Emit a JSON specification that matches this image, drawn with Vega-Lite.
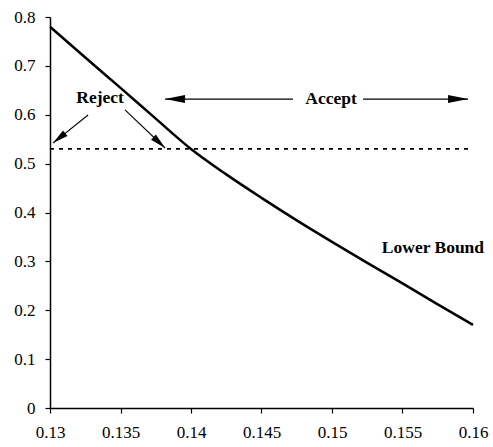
{
  "$schema": "https://vega.github.io/schema/vega-lite/v6.json",
  "width": 423,
  "height": 391,
  "autosize": {"type": "none"},
  "padding": {"left": 50, "top": 17, "right": 20, "bottom": 39},
  "background": "white",
  "config": {
    "view": {"stroke": null},
    "axis": {"grid": false, "domainColor": "black", "domainWidth": 1.5, "tickColor": "black", "tickWidth": 1.2, "tickSize": 5, "labelColor": "black", "title": null},
    "style": {"guide-label": {"font": "Liberation Serif", "fontSize": 17}}
  },
  "datasets": {
    "curve": [
      {"x": 0.13, "y": 0.78},
      {"x": 0.1325, "y": 0.717},
      {"x": 0.135, "y": 0.655},
      {"x": 0.1375, "y": 0.592},
      {"x": 0.14, "y": 0.53},
      {"x": 0.1425, "y": 0.478},
      {"x": 0.145, "y": 0.43},
      {"x": 0.1475, "y": 0.384},
      {"x": 0.15, "y": 0.34},
      {"x": 0.1525, "y": 0.297},
      {"x": 0.155, "y": 0.255},
      {"x": 0.1575, "y": 0.212},
      {"x": 0.16, "y": 0.17}
    ],
    "threshold": [{"x": 0.13, "x2": 0.1598, "y": 0.53}],
    "labels": [
      {"x": 0.13355, "y": 0.634, "text": "Reject"},
      {"x": 0.14993, "y": 0.632, "text": "Accept"},
      {"x": 0.15716, "y": 0.327, "text": "Lower Bound"}
    ],
    "arrows": [
      {"name": "r1", "x": 0.1327, "y": 0.5995, "x2": 0.13021, "y2": 0.542},
      {"name": "r2", "x": 0.13532, "y": 0.61, "x2": 0.13816, "y2": 0.532},
      {"name": "aL", "x": 0.14723, "y": 0.632, "x2": 0.13816, "y2": 0.632},
      {"name": "aR", "x": 0.1522, "y": 0.632, "x2": 0.15965, "y2": 0.632}
    ]
  },
  "layer": [
    {
      "data": {"name": "curve"},
      "mark": {"type": "line", "color": "black", "strokeWidth": 2.5, "interpolate": "monotone"},
      "encoding": {
        "x": {"field": "x", "type": "quantitative", "scale": {"domain": [0.13, 0.16], "nice": false, "zero": false},
          "axis": {"values": [0.13, 0.135, 0.14, 0.145, 0.15, 0.155, 0.16], "format": ".3~f", "labelPadding": 11, "labelFlush": false}},
        "y": {"field": "y", "type": "quantitative", "scale": {"domain": [0, 0.8], "nice": false},
          "axis": {"values": [0, 0.1, 0.2, 0.3, 0.4, 0.5, 0.6, 0.7, 0.8], "format": ".1~f", "labelPadding": 10, "labelFlush": false}}
      }
    },
    {
      "data": {"name": "threshold"},
      "mark": {"type": "rule", "color": "black", "strokeWidth": 1.8, "strokeDash": [4, 5]},
      "encoding": {
        "x": {"field": "x", "type": "quantitative"},
        "x2": {"field": "x2"},
        "y": {"field": "y", "type": "quantitative"}
      }
    },
    {
      "data": {"name": "arrows"},
      "mark": {"type": "rule", "color": "black", "strokeWidth": 1.1},
      "encoding": {
        "x": {"field": "x", "type": "quantitative"},
        "x2": {"field": "x2"},
        "y": {"field": "y", "type": "quantitative"},
        "y2": {"field": "y2"}
      }
    },
    {
      "data": {"name": "arrows"},
      "transform": [{"filter": "datum.name === 'r1'"}],
      "mark": {"type": "point", "shape": "M0,0L0.45,2L-0.45,2Z", "size": 250, "angle": 231, "filled": true, "color": "black", "opacity": 1},
      "encoding": {"x": {"field": "x2", "type": "quantitative"}, "y": {"field": "y2", "type": "quantitative"}}
    },
    {
      "data": {"name": "arrows"},
      "transform": [{"filter": "datum.name === 'r2'"}],
      "mark": {"type": "point", "shape": "M0,0L0.45,2L-0.45,2Z", "size": 250, "angle": 133, "filled": true, "color": "black", "opacity": 1},
      "encoding": {"x": {"field": "x2", "type": "quantitative"}, "y": {"field": "y2", "type": "quantitative"}}
    },
    {
      "data": {"name": "arrows"},
      "transform": [{"filter": "datum.name === 'aL'"}],
      "mark": {"type": "point", "shape": "M0,0L0.4,2L-0.4,2Z", "size": 400, "angle": 270, "filled": true, "color": "black", "opacity": 1},
      "encoding": {"x": {"field": "x2", "type": "quantitative"}, "y": {"field": "y2", "type": "quantitative"}}
    },
    {
      "data": {"name": "arrows"},
      "transform": [{"filter": "datum.name === 'aR'"}],
      "mark": {"type": "point", "shape": "M0,0L0.4,2L-0.4,2Z", "size": 400, "angle": 90, "filled": true, "color": "black", "opacity": 1},
      "encoding": {"x": {"field": "x2", "type": "quantitative"}, "y": {"field": "y2", "type": "quantitative"}}
    },
    {
      "data": {"name": "labels"},
      "mark": {"type": "text", "font": "Liberation Serif", "fontWeight": "bold", "fontSize": 17.5, "color": "black", "align": "center", "baseline": "middle"},
      "encoding": {
        "x": {"field": "x", "type": "quantitative"},
        "y": {"field": "y", "type": "quantitative"},
        "text": {"field": "text"}
      }
    }
  ]
}
